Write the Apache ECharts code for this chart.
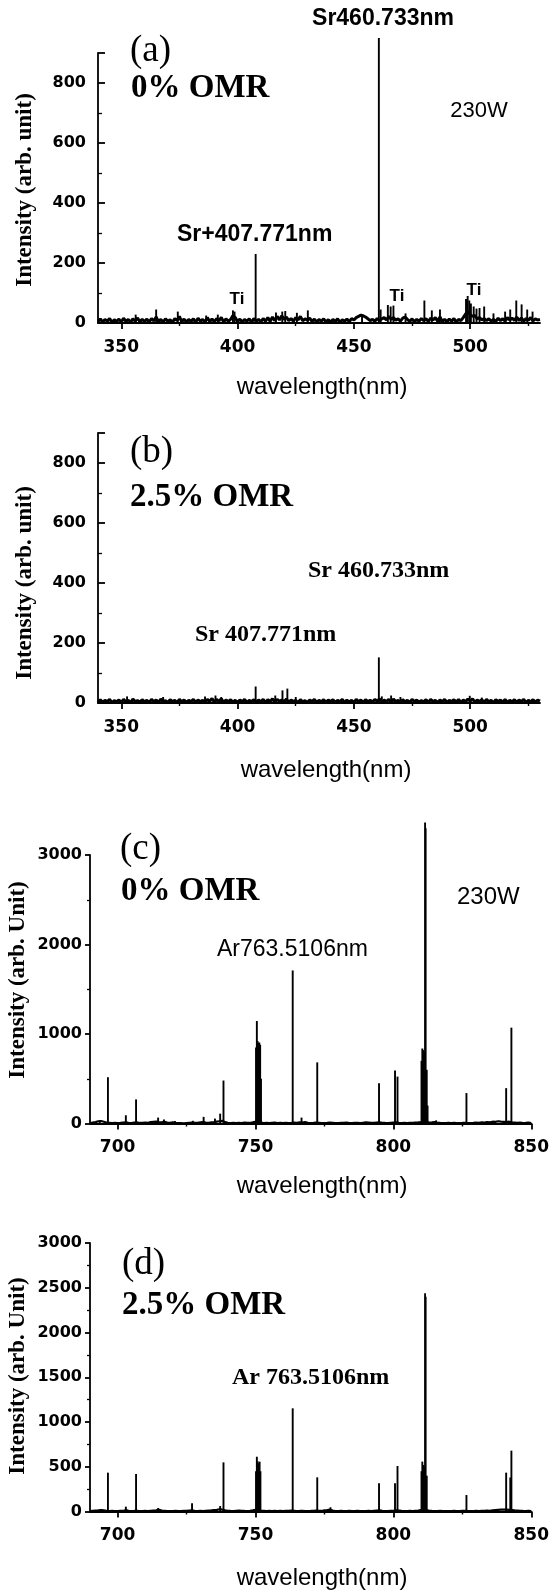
<!DOCTYPE html>
<html>
<head>
<meta charset="utf-8">
<script src="https://cdn.jsdelivr.net/npm/echarts@6.0.0/dist/echarts.min.js"></script>
<style>
html, body { margin: 0; padding: 0; background: #fff; }
#chart { width: 552px; height: 1591px; }
</style>
</head>
<body>
<div id="chart"></div>
<script>
// background noise, one value per nm
var aStart = 340;
var aNoise = [
    4, 14, 3, 12, 6, 15, 2, 11, 5, 13,
    3, 16, 5, 12, 2, 14, 6, 17, 4, 12,
    5, 13, 3, 15, 7, 20, 4, 12, 3, 14,
    6, 11, 2, 15, 8, 22, 4, 13, 3, 12,
    5, 14, 2, 16, 6, 12, 3, 18, 5, 13,
    4, 15, 7, 19, 3, 14, 6, 12, 25, 18,
    5, 13, 3, 12, 6, 14, 2, 15, 6, 12,
    4, 15, 6, 18, 5, 20, 8, 22, 10, 24,
    12, 20, 8, 15, 6, 18, 10, 22, 7, 14,
    9, 16, 5, 13, 3, 12, 6, 14, 4, 11,
    3, 12, 5, 14, 2, 11, 6, 13, 4, 15,
    10, 18, 22, 26, 24, 20, 14, 8, 12, 6,
    15, 8, 14, 18, 10, 22, 12, 18, 9, 14,
    6, 16, 20, 12, 5, 14, 4, 12, 6, 15,
    8, 14, 5, 16, 10, 18, 6, 20, 5, 12,
    4, 13, 6, 15, 3, 12, 8, 18, 30, 38,
    28, 22, 25, 14, 18, 10, 15, 8, 14, 6,
    12, 5, 16, 8, 14, 6, 18, 10, 16, 9,
    20, 8, 17, 6, 15, 9, 18, 7, 14, 10,
    12
];
// emission lines [wavelength, intensity]
var aLines = [
    [356.2, 28], [365.0, 45], [374.3, 38], [386.5, 25], [391.5, 28], [398.0, 42], [398.7, 38],
    [407.77, 230], [416.5, 35], [419.2, 38], [420.5, 40], [425.5, 34], [430.2, 42], [453.5, 30],
    [460.73, 950], [461.5, 45], [464.6, 60], [465.8, 55], [467.0, 58], [472.2, 32], [480.3, 75],
    [483.5, 42], [487.0, 45], [498.2, 80], [498.9, 90], [499.6, 75], [500.3, 65], [501.5, 55],
    [502.7, 48], [504.0, 50], [506.0, 55], [510.0, 32], [515.0, 38], [517.2, 45], [519.8, 75],
    [522.1, 62], [524.5, 45], [526.8, 38]
];

var bStart = 340;
var bNoise = [
    3, 11, 2, 9, 5, 12, 1, 8, 4, 10,
    2, 12, 4, 9, 1, 13, 5, 8, 3, 11,
    4, 9, 1, 12, 5, 10, 2, 13, 4, 8,
    2, 11, 5, 9, 1, 12, 4, 10, 2, 9,
    5, 12, 2, 10, 4, 9, 1, 12, 6, 15,
    3, 12, 5, 14, 2, 10, 4, 11, 3, 9,
    2, 10, 4, 12, 1, 9, 5, 11, 3, 10,
    4, 12, 2, 11, 5, 14, 3, 12, 6, 10,
    4, 13, 2, 10, 5, 9, 1, 11, 4, 8,
    2, 10, 5, 12, 1, 9, 4, 11, 2, 10,
    5, 11, 2, 9, 4, 12, 1, 10, 3, 9,
    2, 12, 4, 10, 1, 11, 5, 9, 3, 12,
    6, 14, 3, 10, 5, 12, 2, 13, 4, 9,
    1, 11, 4, 9, 2, 12, 5, 10, 3, 8,
    4, 11, 2, 12, 5, 9, 1, 10, 4, 12,
    2, 9, 5, 11, 3, 12, 1, 10, 4, 13,
    6, 14, 3, 10, 5, 11, 2, 12, 4, 9,
    1, 11, 5, 10, 3, 12, 2, 9, 4, 11,
    2, 10, 5, 12, 1, 9, 4, 11, 3, 10,
    6
];
var bLines = [
    [352.5, 22], [368.0, 20], [386.0, 22], [390.5, 25], [393.0, 20], [407.77, 55], [416.2, 25],
    [419.3, 42], [421.4, 48], [425.0, 20], [460.73, 152], [462.0, 22], [466.0, 25], [470.0, 20],
    [499.8, 24], [505.0, 18]
];

var cStart = 690;
var cNoise = [
    5, 10, 15, 25, 28, 20, 10, 8, 5, 8,
    4, 6, 10, 12, 8, 5, 10, 12, 6, 8,
    10, 8, 15, 18, 20, 15, 12, 20, 10, 8,
    14, 8, 5, 4, 2, 5, 8, 10, 6, 8,
    12, 15, 10, 8, 12, 15, 20, 25, 30, 15,
    8, 5, 6, 4, 8, 5, 10, 8, 6, 12,
    20, 15, 10, 5, 6, 4, 8, 10, 5, 6,
    4, 8, 5, 6, 10, 8, 12, 10, 15, 8,
    5, 6, 10, 8, 4, 5, 6, 10, 8, 4,
    5, 8, 6, 10, 4, 5, 8, 6, 4, 8,
    12, 10, 8, 6, 10, 12, 8, 6, 5, 8,
    10, 12, 8, 5, 6, 4, 8, 6, 10, 12,
    15, 20, 18, 10, 12, 15, 8, 6, 5, 4,
    6, 5, 8, 4, 5, 6, 8, 5, 4, 6,
    10, 8, 12, 10, 15, 12, 20, 18, 25, 20,
    18, 15, 20, 12, 10, 8, 10, 5, 6, 10,
    5
];
var cLines = [
    [693.5, 35], [696.5, 517], [703.0, 92], [706.7, 269], [714.7, 66], [716.8, 45], [720.8, 28],
    [727.3, 30], [731.2, 74], [735.3, 55], [737.2, 110], [738.4, 480],
    [750.2, 850], [750.5, 1145], [750.8, 920], [751.1, 900], [751.4, 905], [751.7, 880], [752.0, 500],
    [763.5, 1710], [766.7, 66], [772.4, 683], [794.8, 450], [800.6, 591], [801.5, 524],
    [810.2, 700], [810.5, 838], [810.8, 820], [811.1, 800], [811.5, 3363], [811.7, 3300],
    [812.1, 600], [812.4, 200], [815.5, 35], [826.5, 340], [840.9, 395], [842.8, 1071]
];

var dStart = 690;
var dNoise = [
    5, 8, 10, 12, 15, 12, 8, 5, 6, 4,
    5, 8, 6, 15, 8, 5, 6, 8, 5, 4,
    6, 5, 8, 10, 12, 20, 10, 8, 5, 4,
    5, 6, 4, 5, 8, 6, 10, 12, 8, 5,
    6, 4, 8, 10, 12, 15, 18, 25, 20, 12,
    8, 6, 5, 8, 10, 8, 6, 5, 8, 12,
    18, 15, 10, 8, 5, 6, 4, 8, 5, 6,
    5, 8, 6, 10, 8, 5, 6, 8, 4, 5,
    6, 8, 10, 8, 6, 12, 15, 20, 10, 5,
    4, 6, 5, 4, 6, 5, 4, 8, 5, 4,
    5, 6, 4, 8, 10, 12, 8, 5, 4, 6,
    8, 12, 10, 6, 5, 4, 6, 5, 8, 10,
    15, 18, 15, 8, 6, 5, 4, 6, 5, 4,
    5, 4, 6, 5, 4, 6, 8, 5, 4, 5,
    6, 5, 8, 6, 10, 8, 12, 15, 18, 20,
    22, 20, 18, 15, 12, 10, 8, 6, 5, 8,
    5
];
var dLines = [
    [696.5, 434], [703.0, 54], [706.7, 419], [714.7, 39], [727.0, 91], [737.2, 61], [738.4, 549],
    [750.2, 450], [750.5, 612], [750.8, 560], [751.2, 540], [751.5, 557], [751.8, 450],
    [763.5, 1153], [772.4, 382], [777.2, 47], [794.8, 315], [800.6, 315], [801.5, 508],
    [810.2, 450], [810.5, 557], [810.8, 520], [811.1, 500], [811.5, 2438], [811.7, 2400],
    [812.1, 400], [826.5, 184], [840.9, 434], [842.4, 380], [842.8, 680]
];

var srTicks = [350, 400, 450, 500];
var srMinor = [375, 425, 475, 525];
var arTicks = [700, 750, 800, 850];
var arMinor = [725, 775, 825];

var tickFont = '"DejaVu Sans"';
var serif = '"Liberation Serif", "Times New Roman", serif';
var sans = '"Liberation Sans", Arial, sans-serif';

function spectrum(start, noise) {
    return noise.map(function(v, i) {
        return [start + i, v];
    });
}

function plain(v) {
    return String(v);
}

var panels = [
    {grid: {left: 98, top: 53, width: 442, height: 270}, xmin: 340, xmax: 530, ticks: srTicks, minor: srMinor,
        ymax: 900, yint: 200, inside: true, start: aStart, noise: aNoise, lines: aLines, lw: 3},
    {grid: {left: 98, top: 433, width: 442, height: 270}, xmin: 340, xmax: 530, ticks: srTicks, minor: srMinor,
        ymax: 900, yint: 200, inside: true, start: bStart, noise: bNoise, lines: bLines, lw: 3},
    {grid: {left: 90, top: 855, width: 444, height: 268.5}, xmin: 690, xmax: 850, ticks: arTicks, minor: arMinor,
        ymax: 3000, yint: 1000, inside: false, start: cStart, noise: cNoise, lines: cLines, lw: 2.2},
    {grid: {left: 90, top: 1243, width: 444, height: 268.5}, xmin: 690, xmax: 850, ticks: arTicks, minor: arMinor,
        ymax: 3000, yint: 500, inside: false, start: dStart, noise: dNoise, lines: dLines, lw: 2.2}
];

var grids = [], xAxes = [], yAxes = [], series = [];
panels.forEach(function(p, g) {
    grids.push(p.grid);
    xAxes.push({
        type: 'value', gridIndex: g, position: 'bottom', min: p.xmin, max: p.xmax,
        axisLine: {onZero: false, lineStyle: {color: '#000', width: 1.8}},
        axisTick: {customValues: p.ticks, length: 6, lineStyle: {color: '#000', width: 1.8}},
        axisLabel: {customValues: p.ticks, formatter: plain, margin: 16, color: '#000',
            fontFamily: tickFont, fontWeight: 'bold', fontSize: 17},
        splitLine: {show: false}
    });
    xAxes.push({
        type: 'value', gridIndex: g, position: 'bottom', min: p.xmin, max: p.xmax,
        axisLine: {show: false},
        axisTick: {customValues: p.minor, length: 3, lineStyle: {color: '#000', width: 1.4}},
        axisLabel: {show: false},
        splitLine: {show: false}
    });
    yAxes.push({
        type: 'value', gridIndex: g, min: 0, max: p.ymax, interval: p.yint,
        axisLine: {show: true, onZero: false, lineStyle: {color: '#000', width: 1.8}},
        axisTick: {show: true, inside: p.inside, length: p.inside ? 7 : 5, lineStyle: {color: '#000', width: 1.8}},
        minorTick: {show: true, splitNumber: 2, length: p.inside ? 4 : 3, lineStyle: {color: '#000', width: 1.3}},
        axisLabel: {showMaxLabel: p.ymax % p.yint === 0, formatter: plain, margin: p.inside ? 12 : 8,
            color: '#000', fontFamily: tickFont, fontWeight: 'bold', fontSize: 16},
        splitLine: {show: false}
    });
    series.push({
        type: 'line', xAxisIndex: 2 * g, yAxisIndex: g,
        data: spectrum(p.start, p.noise),
        showSymbol: false, lineStyle: {color: '#000', width: p.lw}
    });
    series.push({
        type: 'bar', xAxisIndex: 2 * g, yAxisIndex: g,
        data: p.lines, barWidth: 1.9, clip: false,
        itemStyle: {color: '#000'}
    });
});

function txt(x, y, text, font, align, rot) {
    return {
        type: 'text', x: x, y: y, rotation: rot || 0,
        style: {text: text, font: font, fill: '#000', align: align || 'left', textAlign: align || 'left',
            verticalAlign: 'middle', textVerticalAlign: 'middle'}
    };
}

var labels = [
    // (a)
    txt(130, 51, '(a)', '37px ' + serif),
    txt(131, 88, '0% OMR', 'bold 33px ' + serif),
    txt(479, 111, '230W', '22px ' + sans, 'center'),
    txt(383, 19, 'Sr460.733nm', 'bold 23px ' + sans, 'center'),
    txt(177, 235, 'Sr+407.771nm', 'bold 23px ' + sans),
    txt(237, 299, 'Ti', 'bold 17px ' + sans, 'center'),
    txt(397, 296, 'Ti', 'bold 17px ' + sans, 'center'),
    txt(474, 290, 'Ti', 'bold 17px ' + sans, 'center'),
    txt(25, 190, 'Intensity (arb. unit)', 'bold 23px ' + serif, 'center', Math.PI / 2),
    txt(322, 387, 'wavelength(nm)', '24px ' + sans, 'center'),
    // (b)
    txt(130, 452, '(b)', '37px ' + serif),
    txt(130, 497, '2.5% OMR', 'bold 33px ' + serif),
    txt(308, 571, 'Sr 460.733nm', 'bold 24px ' + serif),
    txt(195, 635, 'Sr 407.771nm', 'bold 24px ' + serif),
    txt(25, 583, 'Intensity (arb. unit)', 'bold 23px ' + serif, 'center', Math.PI / 2),
    txt(326, 770, 'wavelength(nm)', '24px ' + sans, 'center'),
    // (c)
    txt(120, 849, '(c)', '37px ' + serif),
    txt(121, 891, '0% OMR', 'bold 33px ' + serif),
    txt(457, 897, '230W', '24px ' + sans),
    txt(217, 950, 'Ar763.5106nm', '23px ' + sans),
    txt(18, 980, 'Intensity (arb. Unit)', 'bold 23px ' + serif, 'center', Math.PI / 2),
    txt(322, 1186, 'wavelength(nm)', '24px ' + sans, 'center'),
    // (d)
    txt(122, 1264, '(d)', '37px ' + serif),
    txt(122, 1305, '2.5% OMR', 'bold 33px ' + serif),
    txt(232, 1378, 'Ar 763.5106nm', 'bold 24px ' + serif),
    txt(18, 1376, 'Intensity (arb. Unit)', 'bold 23px ' + serif, 'center', Math.PI / 2),
    txt(322, 1578, 'wavelength(nm)', '24px ' + sans, 'center')
];

var chart = echarts.init(document.getElementById('chart'));
chart.setOption({
    animation: false,
    backgroundColor: '#fff',
    grid: grids,
    xAxis: xAxes,
    yAxis: yAxes,
    series: series,
    graphic: labels
});
</script>
</body>
</html>
